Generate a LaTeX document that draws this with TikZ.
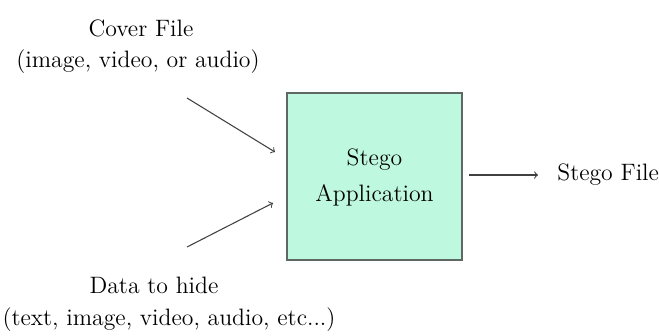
\documentclass[tikz,border=0pt]{standalone}
\usepackage{tikz}

\definecolor{mint}{RGB}{190,248,222}
\definecolor{edgegray}{RGB}{95,105,100}

\tikzset{
  lbl/.style={font=\fontsize{13.5}{19}\selectfont, inner sep=0pt},
  flow/.style={->, draw=black!75, line width=0.6pt},
}

\begin{document}
\begin{tikzpicture}
        \useasboundingbox (0,0) rectangle (13.18,-6.72);

        % The stego application box
        \node[draw=edgegray, line width=0.9pt, fill=mint,
              minimum width=3.5cm, minimum height=3.34cm] (app) at (7.49,-3.53) {};
        \node[lbl] (appa) at (7.49,-3.2) {Stego};
        \node[lbl] (appb) at (7.49,-3.9) {Application};

        % Inputs
        \node[lbl] (cover) at (2.82,-0.56) {Cover File};
        \node[lbl] (coverkind) at (2.76,-1.24) {(image, video, or audio)};
        \node[lbl] (data) at (3.08,-5.7) {Data to hide};
        \node[lbl] (datakind) at (3.38,-6.4) {(text, image, video, audio, etc...)};

        % Output
        \node[lbl, anchor=west] (stegofile) at (11.14,-3.5) {Stego File};

        % Arrow ends
        \coordinate (coverin) at (3.74,-1.96);
        \coordinate (covertip) at (5.5,-3.04);
        \coordinate (datain) at (3.74,-4.94);
        \coordinate (datatip) at (5.46,-4.06);

        % Arrows
        \draw[flow] (coverin) -- (covertip);
        \draw[flow] (datain) -- (datatip);
        \draw[flow, shorten <=0.12cm, shorten >=0.38cm] (app.east |- stegofile.west) -- (stegofile.west);
    \end{tikzpicture}
\end{document}
